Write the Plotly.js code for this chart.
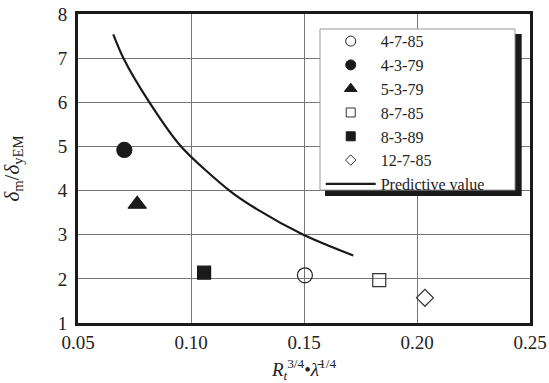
<!DOCTYPE html>
<html>
<head>
<meta charset="utf-8">
<script src="https://cdn.plot.ly/plotly-3.0.1.min.js"></script>
<style>html,body{margin:0;padding:0;background:#fff;}#chart{width:549px;height:383px;}</style>
</head>
<body>
<div id="chart"></div>
<script>
// Data
const seriesNames = ['4-7-85', '4-3-79', '5-3-79', '8-7-85', '8-3-89', '12-7-85'];
const seriesX = [0.1504, 0.0705, 0.0762, 0.1833, 0.1058, 0.2035];
const seriesY = [2.08, 4.92, 3.69, 1.97, 2.14, 1.57];
const predX = [0.0656, 0.0701, 0.0816, 0.0956, 0.1170, 0.1291, 0.1497, 0.1615, 0.1718];
const predY = [7.54, 7.00, 6.00, 5.00, 4.00, 3.58, 3.00, 2.74, 2.53];
const xTicks = [0.05, 0.10, 0.15, 0.20, 0.25];
const yTicks = [1, 2, 3, 4, 5, 6, 7, 8];

const styles = [
  {symbol: 'circle-open', size: 15, lsize: 10, color: '#222'},
  {symbol: 'circle', size: 15, lsize: 10, color: '#1a1a1a'},
  {symbol: 'triangle-up', size: 16, lsize: 11, color: '#1a1a1a'},
  {symbol: 'square-open', size: 13, lsize: 9, color: '#333'},
  {symbol: 'square', size: 13, lsize: 9, color: '#1a1a1a'},
  {symbol: 'diamond-open', size: 13, lsize: 8, color: '#333'}
];

const serif = 'Liberation Serif';
const traces = [];
seriesNames.forEach((n, i) => {
  traces.push({
    type: 'scatter', mode: 'markers', name: n, showlegend: false,
    x: [seriesX[i]], y: [seriesY[i]],
    marker: {symbol: styles[i].symbol, size: styles[i].size, color: styles[i].color,
             line: {color: styles[i].color, width: 1.2}}
  });
});
// legend entries (no data of their own) so the legend symbols can be smaller
seriesNames.forEach((n, i) => {
  traces.push({
    type: 'scatter', mode: 'markers', name: n, showlegend: true,
    x: [null], y: [null],
    marker: {symbol: styles[i].symbol, size: styles[i].lsize, color: styles[i].color,
             line: {color: styles[i].color, width: 1}}
  });
});
traces.push({
  type: 'scatter', mode: 'lines', name: 'Predictive value',
  x: predX, y: predY, line: {color: '#1a1a1a', width: 2.2, shape: 'spline', smoothing: 0.8}
});

const layout = {
  width: 549, height: 383,
  margin: {l: 78, r: 19, t: 14, b: 60},
  paper_bgcolor: '#fff', plot_bgcolor: '#fff',
  font: {family: serif, color: '#222'},
  showlegend: true,
  legend: {
    x: 0.537, y: 0.967, xanchor: 'left', yanchor: 'top',
    bgcolor: 'rgba(0,0,0,0)', borderwidth: 0,
    font: {family: serif, size: 16, color: '#222'},
    itemwidth: 50
  },
  xaxis: {
    range: [0.05, 0.25], tickvals: xTicks, ticktext: xTicks.map(v => v.toFixed(2)),
    showline: true, mirror: true, linewidth: 3, linecolor: '#1a1a1a',
    showgrid: true, gridcolor: '#777', gridwidth: 1, zeroline: false,
    ticks: '', tickfont: {family: serif, size: 19, color: '#222'},
    title: {text: '<i>R<sub>t</sub></i><sup>3/4</sup>•<i>λ̄</i><sup>1/4</sup>', font: {family: serif, size: 19, color: '#222'}, standoff: 13}
  },
  yaxis: {
    range: [1, 8], tickvals: yTicks,
    showline: true, mirror: true, linewidth: 3, linecolor: '#1a1a1a',
    showgrid: true, gridcolor: '#777', gridwidth: 1, zeroline: false,
    ticks: '', tickfont: {family: serif, size: 19, color: '#222'}, ticklabelstandoff: 4,
    title: {text: '<i>δ</i><sub>m</sub>/<i>δ</i><sub>yEM</sub>', font: {family: serif, size: 21, color: '#222'}, standoff: 34}
  },
  shapes: [
    {type: 'rect', xref: 'paper', yref: 'paper', x0: 0.5465, x1: 0.9816, y0: 0.411, y1: 0.935,
     fillcolor: '#1a1a1a', line: {width: 0}, layer: 'above'},
    {type: 'rect', xref: 'paper', yref: 'paper', x0: 0.5354, x1: 0.9668, y0: 0.4304, y1: 0.9515,
     fillcolor: '#fff', line: {color: '#999', width: 1}, layer: 'above'}
  ]
};

Plotly.newPlot('chart', traces, layout, {displayModeBar: false, staticPlot: true});
</script>
</body>
</html>
